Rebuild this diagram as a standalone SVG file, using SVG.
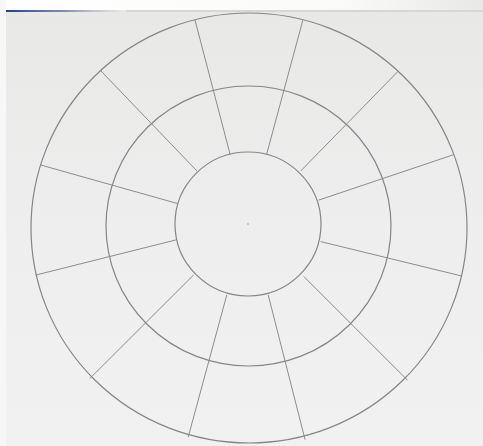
<svg xmlns="http://www.w3.org/2000/svg" width="483" height="446" viewBox="0 0 483 446">
  <defs>
    <linearGradient id="paper" x1="0" y1="0" x2="0" y2="1">
      <stop offset="0" stop-color="#e8e9e7"/>
      <stop offset="0.5" stop-color="#edeeed"/>
      <stop offset="1" stop-color="#f0f1f0"/>
    </linearGradient>
    <linearGradient id="topband" x1="0" y1="0" x2="1" y2="0">
      <stop offset="0" stop-color="#ffffff" stop-opacity="1"/>
      <stop offset="0.7" stop-color="#ffffff" stop-opacity="0.8"/>
      <stop offset="1" stop-color="#ffffff" stop-opacity="0"/>
    </linearGradient>
    <linearGradient id="blueline" x1="0" y1="0" x2="1" y2="0">
      <stop offset="0" stop-color="#283c8c" stop-opacity="1"/>
      <stop offset="0.5" stop-color="#5a6a9a" stop-opacity="0.7"/>
      <stop offset="1" stop-color="#999" stop-opacity="0"/>
    </linearGradient>
    <style>
      .ring { fill: none; stroke: #858585; stroke-width: 1.2; }
      .ray { stroke: #8c8c8c; stroke-width: 1; stroke-linecap: round; }
    </style>
  </defs>

  <rect x="0" y="0" width="483" height="446" fill="url(#paper)"/>
  <rect x="0" y="0" width="483" height="10" fill="url(#topband)"/>
  <rect x="0" y="0" width="6" height="446" fill="#f7f7f7"/>
  <rect x="6" y="10" width="120" height="2" fill="url(#blueline)"/>
  <rect x="126" y="10" width="357" height="2" fill="#c9c9c9" opacity="0.6"/>

  <g id="rings">
    <ellipse id="outer" class="ring" cx="249" cy="228" rx="218" ry="215"/>
    <ellipse id="middle" class="ring" cx="248.5" cy="226" rx="142.5" ry="140"/>
    <ellipse id="inner" class="ring" cx="248" cy="224" rx="73" ry="72"/>
  </g>

  <g id="rays">
    <line class="ray" x1="195" y1="20" x2="230" y2="154"/>
    <line class="ray" x1="302.7" y1="20.7" x2="266.7" y2="154"/>
    <line class="ray" x1="101" y1="71" x2="196.7" y2="170.7"/>
    <line class="ray" x1="397.7" y1="71.7" x2="301" y2="170.7"/>
    <line class="ray" x1="40.7" y1="165" x2="176.7" y2="203.3"/>
    <line class="ray" x1="452.7" y1="155" x2="319" y2="200"/>
    <line class="ray" x1="36" y1="275" x2="175.7" y2="240"/>
    <line class="ray" x1="461.7" y1="276" x2="321" y2="241.7"/>
    <line class="ray" x1="90" y1="378.3" x2="193.3" y2="275.3"/>
    <line class="ray" x1="407.3" y1="380" x2="304" y2="276.7"/>
    <line class="ray" x1="188.3" y1="436.7" x2="226.7" y2="295.3"/>
    <line class="ray" x1="305" y1="439.3" x2="268.3" y2="295.3"/>
  </g>
  <circle cx="248" cy="224" r="0.8" fill="#999"/>
</svg>
